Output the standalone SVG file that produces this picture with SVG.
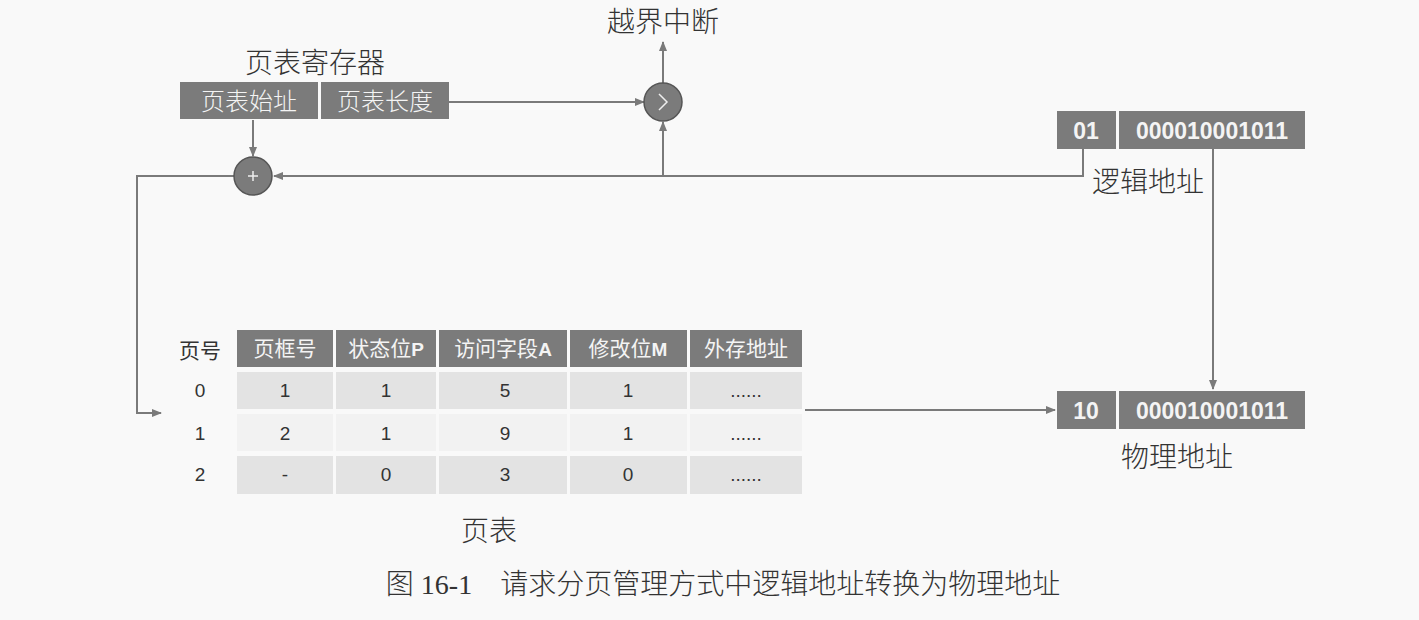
<svg xmlns="http://www.w3.org/2000/svg" width="1419" height="620" viewBox="0 0 1419 620">
<defs>
<style>
.bg{fill:#f9f9f9}
.dk{fill:#7b7b7b}
.lt{fill:#e3e3e3}
.lt2{fill:#f2f2f2}
.ln{stroke:#7a7a7a;stroke-width:2;fill:none}
.wt{fill:#f4f4f4;font-family:"Noto Sans CJK SC","Liberation Sans",sans-serif;font-size:24px;font-weight:300;text-anchor:middle}
.wb{fill:#f4f4f4;font-family:"Liberation Sans","Noto Sans CJK SC",sans-serif;font-size:23px;font-weight:bold;text-anchor:middle}
.th{fill:#f4f4f4;font-family:"Noto Sans CJK SC","Liberation Sans",sans-serif;font-size:21px;text-anchor:middle}
.th b{font-family:"Liberation Sans",sans-serif;font-weight:bold}
.td{fill:#333;font-family:"Liberation Sans","Noto Sans CJK SC",sans-serif;font-size:19px;text-anchor:middle}
.lb{fill:#333;font-family:"Noto Sans CJK SC",sans-serif;font-size:28px;font-weight:300;text-anchor:middle}
.cap{fill:#333;font-family:"Liberation Serif","Noto Sans CJK SC",serif;font-size:28px;font-weight:300;text-anchor:middle}
.circ{fill:#7b7b7b;stroke:#555;stroke-width:1.5}
</style>
<marker id="ah" markerWidth="10" markerHeight="8" refX="9" refY="4" orient="auto" markerUnits="userSpaceOnUse">
<path d="M0,0 L10,4 L0,8 Z" fill="#7a7a7a"/>
</marker>
</defs>
<rect class="bg" x="0" y="0" width="1419" height="620"/>

<g id="connectors">
<line class="ln" x1="449" y1="102" x2="644" y2="102" marker-end="url(#ah)"/>
<line class="ln" x1="663" y1="84" x2="663" y2="42" marker-end="url(#ah)"/>
<line class="ln" x1="253" y1="120" x2="253" y2="156" marker-end="url(#ah)"/>
<polyline class="ln" points="1083,149 1083,176 274,176" marker-end="url(#ah)"/>
<line class="ln" x1="663" y1="176" x2="663" y2="122" marker-end="url(#ah)"/>
<polyline class="ln" points="234,176 137,176 137,413 161,413" marker-end="url(#ah)"/>
<line class="ln" x1="1213" y1="149" x2="1213" y2="389" marker-end="url(#ah)"/>
<line class="ln" x1="805" y1="410" x2="1055" y2="410" marker-end="url(#ah)"/>
</g>

<g id="register">
<text class="lb" x="315" y="73">页表寄存器</text>
<rect class="dk" x="180" y="82" width="138" height="37"/>
<rect class="dk" x="321" y="82" width="128" height="37"/>
<text class="wt" x="249" y="110">页表始址</text>
<text class="wt" x="385" y="110">页表长度</text>
</g>

<g id="compare">
<circle class="circ" cx="663" cy="102" r="19"/>
<path d="M659,94 L667,102 L659,110" stroke="#eee" stroke-width="1.5" fill="none"/>
</g>
<g id="interrupt"><text class="lb" x="663" y="32">越界中断</text></g>

<g id="adder">
<circle class="circ" cx="253" cy="176" r="19"/>
<path d="M248,176 H258 M253,171 V181" stroke="#eee" stroke-width="1.5"/>
</g>

<g id="logical">
<rect class="dk" x="1057" y="111" width="59" height="38"/>
<rect class="dk" x="1119" y="111" width="186" height="38"/>
<text class="wb" x="1086" y="139">01</text>
<text class="wb" x="1212" y="139">000010001011</text>
<text class="lb" x="1148" y="192">逻辑地址</text>
</g>

<g id="physical">
<rect class="dk" x="1057" y="391" width="59" height="38"/>
<rect class="dk" x="1119" y="391" width="186" height="38"/>
<text class="wb" x="1086" y="419">10</text>
<text class="wb" x="1212" y="419">000010001011</text>
<text class="lb" x="1177" y="467">物理地址</text>
</g>

<g id="pagetable">
<text class="td" x="200" y="358" style="font-family:'Noto Sans CJK SC',sans-serif;font-size:21px">页号</text>
<rect class="dk" x="237" y="330" width="96" height="37"/>
<rect class="dk" x="336" y="330" width="100" height="37"/>
<rect class="dk" x="439" y="330" width="128" height="37"/>
<rect class="dk" x="570" y="330" width="117" height="37"/>
<rect class="dk" x="690" y="330" width="112" height="37"/>
<text class="th" x="285" y="356">页框号</text>
<text class="th" x="386" y="356">状态位<tspan font-family="Liberation Sans" font-weight="bold" font-size="19">P</tspan></text>
<text class="th" x="503" y="356">访问字段<tspan font-family="Liberation Sans" font-weight="bold" font-size="19">A</tspan></text>
<text class="th" x="628" y="356">修改位<tspan font-family="Liberation Sans" font-weight="bold" font-size="19">M</tspan></text>
<text class="th" x="746" y="356">外存地址</text>

<rect class="lt" x="237" y="372" width="96" height="37"/>
<rect class="lt" x="336" y="372" width="100" height="37"/>
<rect class="lt" x="439" y="372" width="128" height="37"/>
<rect class="lt" x="570" y="372" width="117" height="37"/>
<rect class="lt" x="690" y="372" width="112" height="37"/>

<rect class="lt2" x="237" y="414" width="96" height="37"/>
<rect class="lt2" x="336" y="414" width="100" height="37"/>
<rect class="lt2" x="439" y="414" width="128" height="37"/>
<rect class="lt2" x="570" y="414" width="117" height="37"/>
<rect class="lt2" x="690" y="414" width="112" height="37"/>

<rect class="lt" x="237" y="456" width="96" height="38"/>
<rect class="lt" x="336" y="456" width="100" height="38"/>
<rect class="lt" x="439" y="456" width="128" height="38"/>
<rect class="lt" x="570" y="456" width="117" height="38"/>
<rect class="lt" x="690" y="456" width="112" height="38"/>

<text class="td" x="200" y="397">0</text>
<text class="td" x="285" y="397">1</text>
<text class="td" x="386" y="397">1</text>
<text class="td" x="505" y="397">5</text>
<text class="td" x="628" y="397">1</text>
<text class="td" x="746" y="397">......</text>

<text class="td" x="200" y="440">1</text>
<text class="td" x="285" y="440">2</text>
<text class="td" x="386" y="440">1</text>
<text class="td" x="505" y="440">9</text>
<text class="td" x="628" y="440">1</text>
<text class="td" x="746" y="440">......</text>

<text class="td" x="200" y="481">2</text>
<text class="td" x="285" y="481">-</text>
<text class="td" x="386" y="481">0</text>
<text class="td" x="505" y="481">3</text>
<text class="td" x="628" y="481">0</text>
<text class="td" x="746" y="481">......</text>

<text class="lb" x="489" y="541">页表</text>
</g>

<g id="caption"><text class="cap" x="723" y="594">图 16-1　请求分页管理方式中逻辑地址转换为物理地址</text></g>
</svg>
